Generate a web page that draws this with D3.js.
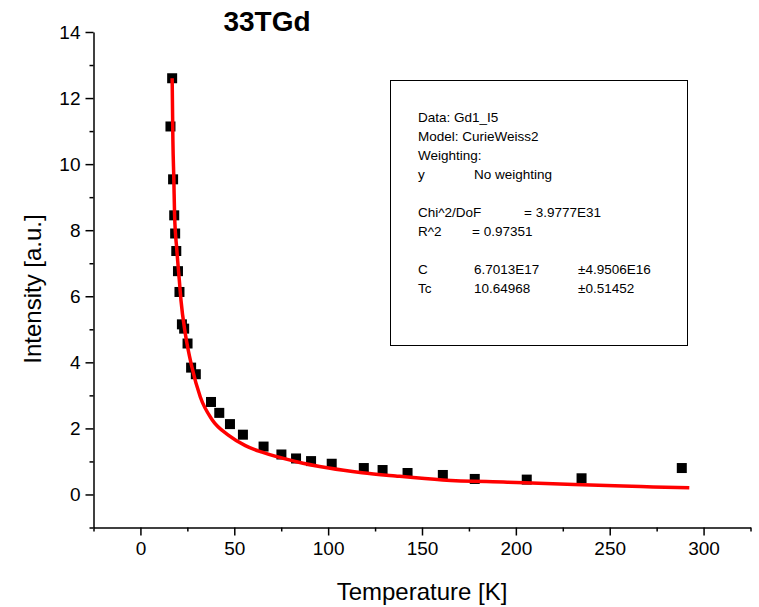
<!DOCTYPE html>
<html>
<head>
<meta charset="utf-8">
<script src="https://cdn.jsdelivr.net/npm/d3@7"></script>
<style>
  html, body { margin: 0; padding: 0; background: #fff; }
  svg text { font-family: "Liberation Sans", Arial, sans-serif; fill: #000; }
</style>
</head>
<body>
<svg id="chart" width="759" height="607"></svg>
<script>
// ---- data ----
const tempData = [16.9, 16.0, 17.4, 18.0, 18.5, 19.1, 20.0, 20.8, 22.1, 23.3, 25.1, 27.0, 29.5,
  37.6, 42.0, 47.7, 54.6, 65.6, 75.1, 82.9, 90.9, 101.9, 119.0, 129.0, 142.3, 161.1, 178.1, 205.8, 235.0, 288.4];
const intensityData = [12.6, 11.14, 9.54, 8.45, 7.9, 7.37, 6.76, 6.13, 5.15, 5.02, 4.57, 3.84, 3.64,
  2.80, 2.47, 2.13, 1.81, 1.45, 1.21, 1.09, 1.01, 0.93, 0.80, 0.74, 0.65, 0.59, 0.47, 0.45, 0.49, 0.80];

const fitTemp = [16.9, 17.3, 17.8, 18.2, 19.4, 20.7, 21.6, 23.9, 27.4, 31.9, 38.1, 47.0, 55.9, 64.8,
  82.6, 100.3, 118.1, 135.9, 161.0, 195.5, 231.0, 266.6, 292.4];
const fitIntensity = [12.6, 10.7, 9.54, 8.45, 7.4, 6.5, 5.88, 4.87, 3.86, 2.95, 2.27, 1.79, 1.48, 1.28,
  1.00, 0.80, 0.66, 0.56, 0.44, 0.37, 0.30, 0.24, 0.20];

const xMajorTicks = [0, 50, 100, 150, 200, 250, 300];
const xMinorTicks = [-25, 25, 75, 125, 175, 225, 275, 325];
const yMajorTicks = [0, 2, 4, 6, 8, 10, 12, 14];
const yMinorTicks = [-1, 1, 3, 5, 7, 9, 11, 13];

const titleText = "33TGd";
const xTitle = "Temperature [K]";
const yTitle = "Intensity [a.u.]";
const infoLines = [
  ["Data: Gd1_I5"],
  ["Model: CurieWeiss2"],
  ["Weighting:"],
  ["y", "No weighting"],
  [],
  ["Chi^2/DoF", "= 3.9777E31"],
  ["R^2", "=  0.97351"],
  [],
  ["C", "6.7013E17", "\u00b14.9506E16"],
  ["Tc", "10.64968", "\u00b10.51452"]
];

// ---- drawing ----
const svg = d3.select("#chart");
const x = d3.scaleLinear().domain([-25, 325]).range([93.5, 750.5]);
const y = d3.scaleLinear().domain([-1, 14]).range([527.5, 32]);

const axisY = 527.5, axisX = 93.5;

// minor ticks
svg.append("g").attr("transform", `translate(0,${axisY})`)
  .call(d3.axisBottom(x).tickValues(xMinorTicks).tickSize(4).tickSizeOuter(0).tickFormat(""))
  .call(g => g.select(".domain").remove())
  .selectAll("line").attr("stroke", "#000").attr("stroke-width", 1.5);
svg.append("g").attr("transform", `translate(${axisX},0)`)
  .call(d3.axisLeft(y).tickValues(yMinorTicks).tickSize(4).tickSizeOuter(0).tickFormat(""))
  .call(g => g.select(".domain").remove())
  .selectAll("line").attr("stroke", "#000").attr("stroke-width", 1.5);

// major axes
const gx = svg.append("g").attr("transform", `translate(0,${axisY})`)
  .call(d3.axisBottom(x).tickValues(xMajorTicks).tickSize(8).tickSizeOuter(0).tickPadding(6).tickFormat(d3.format("d")));
const gy = svg.append("g").attr("transform", `translate(${axisX},0)`)
  .call(d3.axisLeft(y).tickValues(yMajorTicks).tickSize(8).tickSizeOuter(0).tickPadding(5).tickFormat(d3.format("d")));
[gx, gy].forEach(g => {
  g.select(".domain").attr("stroke", "#000").attr("stroke-width", 1.5);
  g.selectAll(".tick line").attr("stroke", "#000").attr("stroke-width", 1.5);
  g.selectAll(".tick text").attr("font-size", 19).attr("font-family", "Liberation Sans, Arial, sans-serif").attr("fill", "#000");
});

// fit curve
const line = d3.line().x((d, i) => x(fitTemp[i])).y((d, i) => y(fitIntensity[i])).curve(d3.curveMonotoneX);

// data squares
const sq = 10;
svg.append("g").selectAll("rect").data(tempData).join("rect")
  .attr("x", (d) => x(d) - sq / 2)
  .attr("y", (d, i) => y(intensityData[i]) - sq / 2)
  .attr("width", sq).attr("height", sq).attr("fill", "#000");

svg.append("path").datum(fitTemp).attr("d", line)
  .attr("fill", "none").attr("stroke", "#ff0000").attr("stroke-width", 3.5);

// titles
svg.append("text").attr("x", 267).attr("y", 31).attr("text-anchor", "middle")
  .attr("font-size", 28).attr("font-weight", "bold").text(titleText);
svg.append("text").attr("x", 422).attr("y", 600).attr("text-anchor", "middle")
  .attr("font-size", 24).text(xTitle);
svg.append("text").attr("transform", "translate(41,289) rotate(-90)").attr("text-anchor", "middle")
  .attr("font-size", 24).text(yTitle);

// info box
svg.append("rect").attr("x", 390.5).attr("y", 80.5).attr("width", 297).attr("height", 265)
  .attr("fill", "#fff").attr("stroke", "#000").attr("stroke-width", 1);
const colX = [418, 474, 578];
const specialCol = { "Chi^2/DoF": [418, 524], "R^2": [418, 472] };
const info = svg.append("g").attr("font-size", 13.5);
infoLines.forEach((row, r) => {
  const cols = specialCol[row[0]] || colX;
  row.forEach((t, c) => {
    info.append("text").attr("x", cols[c]).attr("y", 122 + r * 19).text(t);
  });
});
</script>
</body>
</html>
